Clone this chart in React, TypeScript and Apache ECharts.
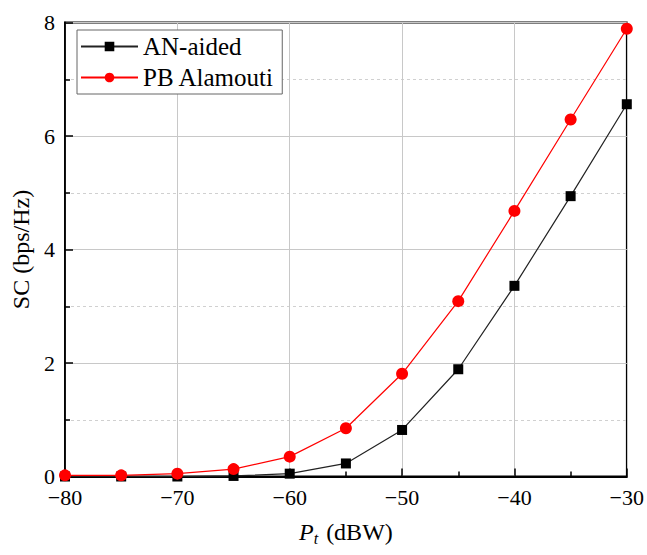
import React, { useEffect, useRef } from "react";
import * as echarts from "echarts";

const powerDbw = [-80, -75, -70, -65, -60, -55, -50, -45, -40, -35, -30];
const anAided = [0.0, 0.0, 0.0, 0.01, 0.05, 0.23, 0.82, 1.89, 3.36, 4.94, 6.56];
const pbAlamouti = [0.02, 0.02, 0.05, 0.13, 0.35, 0.85, 1.81, 3.09, 4.68, 6.29, 7.89];
const seriesNames = ["AN-aided", "PB Alamouti"];

const FONT = "Liberation Serif";

export default function App() {
  const ref = useRef<HTMLDivElement>(null);
  useEffect(() => {
    if (!ref.current) return;
    const chart = echarts.init(ref.current, undefined, { renderer: "svg" });
    const minus = (v: number) => String(v).replace("-", "\u2212");
    chart.setOption({
      animation: false,
      backgroundColor: "#fff",
      textStyle: { fontFamily: FONT },
      grid: {
        left: 65,
        right: 20,
        top: 22.5,
        bottom: 78.5,
        show: true,
        borderColor: "#000",
        borderWidth: 1.8,
        backgroundColor: "transparent",
      },
      legend: {
        orient: "vertical",
        left: 77,
        top: 30,
        backgroundColor: "#fff",
        borderColor: "#666",
        borderWidth: 1,
        padding: [4, 8, 4, 3],
        itemWidth: 57,
        itemHeight: 12,
        itemGap: 6,
        textStyle: { fontSize: 25, fontFamily: FONT, color: "#000" },
        data: seriesNames,
      },
      xAxis: {
        type: "value",
        min: -80,
        max: -30,
        interval: 10,
        name: "{i|P}{s|t} (dBW)",
        nameLocation: "middle",
        nameGap: 40,
        nameTextStyle: {
          fontSize: 24,
          fontFamily: FONT,
          color: "#000",
          rich: {
            i: { fontSize: 24, fontStyle: "italic", fontFamily: FONT, color: "#000" },
            s: { fontSize: 16, fontStyle: "italic", fontFamily: FONT, color: "#000", verticalAlign: "bottom", padding: [14, 2, 0, 0] },
            n: { fontSize: 24, fontFamily: FONT, color: "#000" },
          },
        },
        axisLine: { show: true, onZero: false, lineStyle: { color: "#000", width: 1.8 } },
        axisTick: { show: true, inside: true, length: 8, lineStyle: { color: "#000", width: 1.5 } },
        minorTick: { show: true, splitNumber: 2, length: 5, lineStyle: { color: "#000", width: 1.5 } },
        splitLine: { show: true, lineStyle: { color: "#c8c8c8", width: 1 } },
        axisLabel: { formatter: minus, fontSize: 22, color: "#000", fontFamily: FONT, margin: 10 },
      },
      yAxis: {
        type: "value",
        min: 0,
        max: 8,
        interval: 2,
        name: "SC (bps/Hz)",
        nameLocation: "middle",
        nameGap: 28,
        nameTextStyle: { fontSize: 24, fontFamily: FONT, color: "#000" },
        axisLine: { show: true, lineStyle: { color: "#000", width: 1.8 } },
        axisTick: { show: true, inside: true, length: 8, lineStyle: { color: "#000", width: 1.5 } },
        minorTick: { show: true, splitNumber: 2, length: 5, lineStyle: { color: "#000", width: 1.5 } },
        splitLine: { show: true, lineStyle: { color: "#c8c8c8", width: 1 } },
        minorSplitLine: { show: true, lineStyle: { color: "#d0d0d0", width: 1, type: [3, 3] } },
        axisLabel: { fontSize: 22, color: "#000", fontFamily: FONT, margin: 10 },
      },
      series: [
        {
          name: seriesNames[0],
          type: "line",
          data: powerDbw.map((x, i) => [x, anAided[i]]),
          symbol: "rect",
          symbolSize: 10,
          showAllSymbol: true,
          clip: true,
          itemStyle: { color: "#000" },
          lineStyle: { color: "#222", width: 1.2 },
          z: 3,
        },
        {
          name: seriesNames[1],
          type: "line",
          data: powerDbw.map((x, i) => [x, pbAlamouti[i]]),
          symbol: "circle",
          symbolSize: 12,
          showAllSymbol: true,
          clip: true,
          itemStyle: { color: "#ff0000" },
          lineStyle: { color: "#ff0000", width: 1.2 },
          z: 4,
        },
      ],
    });
    return () => chart.dispose();
  }, []);
  return <div ref={ref} style={{ width: 647, height: 555, position: "absolute", left: 0, top: 0 }} />;
}
